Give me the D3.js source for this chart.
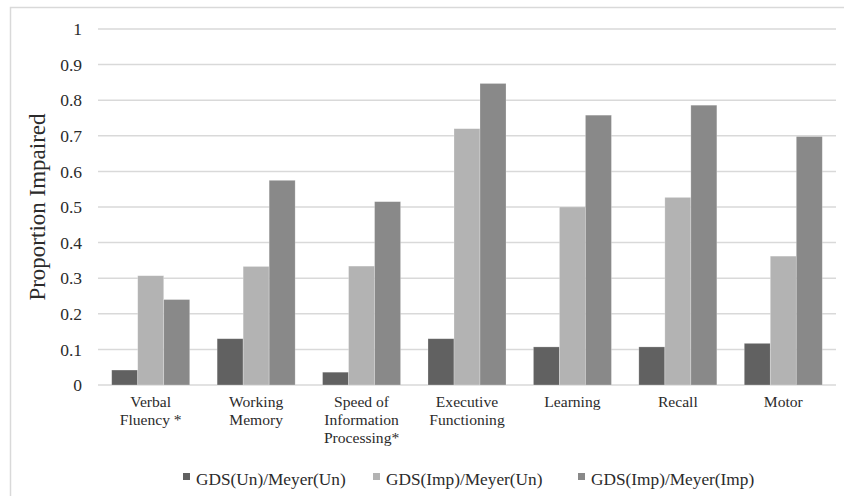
<!DOCTYPE html>
<html>
<head>
<meta charset="utf-8">
<script src="https://cdn.jsdelivr.net/npm/d3@7"></script>
<style>
  body { margin: 0; background: #fff; }
  svg text { font-family: "Liberation Serif", "Times New Roman", serif; fill: #2b2b2b; }
</style>
</head>
<body>
<div id="chart"></div>
<script>
// data
const categories = [
  ["Verbal", "Fluency *"],
  ["Working", "Memory"],
  ["Speed of", "Information", "Processing*"],
  ["Executive", "Functioning"],
  ["Learning"],
  ["Recall"],
  ["Motor"]
];
const seriesNames = ["GDS(Un)/Meyer(Un)", "GDS(Imp)/Meyer(Un)", "GDS(Imp)/Meyer(Imp)"];
const unUn   = [0.042, 0.13, 0.036, 0.13, 0.107, 0.107, 0.117];
const impUn  = [0.307, 0.333, 0.334, 0.72, 0.50, 0.527, 0.362];
const impImp = [0.24, 0.575, 0.515, 0.847, 0.758, 0.786, 0.698];
const yTicks = [0, 0.1, 0.2, 0.3, 0.4, 0.5, 0.6, 0.7, 0.8, 0.9, 1];

const colors = ["#616161", "#b3b3b3", "#898989"];
const width = 844, height = 496;
const margin = {top: 29, right: 8, bottom: 112, left: 98};

const svg = d3.select("#chart").append("svg")
    .attr("width", width)
    .attr("height", height);

// outer chart frame
svg.append("rect")
    .attr("x", 10.5).attr("y", 7.5)
    .attr("width", 840).attr("height", 500)
    .attr("fill", "none")
    .attr("stroke", "#d9d9d9")
    .attr("stroke-width", 1.5);

const rows = categories.map((c, i) => ({
  key: i, label: c, values: [unUn[i], impUn[i], impImp[i]]
}));

const x = d3.scaleBand()
    .domain(rows.map(d => d.key))
    .range([margin.left, width - margin.right])
    .paddingInner(0.26)
    .paddingOuter(0.13);

const xs = d3.scaleBand()
    .domain([0, 1, 2])
    .range([0, x.bandwidth()]);

const y = d3.scaleLinear()
    .domain([0, 1])
    .range([height - margin.bottom + 1, margin.top]);

// gridlines
svg.append("g")
    .selectAll("line")
    .data(yTicks)
    .join("line")
    .attr("x1", margin.left)
    .attr("x2", width - margin.right)
    .attr("y1", d => y(d))
    .attr("y2", d => y(d))
    .attr("stroke", "#d9d9d9")
    .attr("stroke-width", 1.5);

// y axis labels
const yAxis = g => g
    .attr("transform", `translate(${margin.left - 13},0)`)
    .call(d3.axisLeft(y).tickValues(yTicks).tickSize(0).tickFormat(d => d3.format("")(d)))
    .call(g => g.select(".domain").remove())
    .call(g => g.selectAll("text")
        .style("font-family", "Liberation Serif, serif")
        .style("font-size", "17.5px")
        .attr("fill", "#2b2b2b"));
svg.append("g").call(yAxis);

svg.append("text")
    .attr("transform", `translate(45,${(y(0) + y(1)) / 2}) rotate(-90)`)
    .attr("text-anchor", "middle")
    .style("font-size", "23px")
    .text("Proportion Impaired");

// bars
svg.append("g")
    .selectAll("g")
    .data(rows)
    .join("g")
    .attr("transform", d => `translate(${x(d.key)},0)`)
    .selectAll("rect")
    .data(d => d.values.map((v, j) => ({v, j})))
    .join("rect")
    .attr("x", d => xs(d.j))
    .attr("width", xs.bandwidth())
    .attr("y", d => y(d.v))
    .attr("height", d => y(0) - y(d.v))
    .attr("fill", d => colors[d.j])
    .attr("stroke", "#ffffff")
    .attr("stroke-opacity", 0.35)
    .attr("stroke-width", 0.7);

// x labels, one text element per category
const xl = svg.append("g")
    .selectAll("text")
    .data(rows)
    .join("text")
    .attr("text-anchor", "middle")
    .style("font-size", "15.6px")
    .attr("x", d => x(d.key) + x.bandwidth() / 2)
    .attr("y", 407);
xl.selectAll("tspan")
    .data(d => d.label.map((t, i) => ({t, i, cx: x(d.key) + x.bandwidth() / 2})))
    .join("tspan")
    .attr("x", d => d.cx)
    .attr("dy", d => d.i === 0 ? 0 : 18)
    .text(d => d.t);

// legend
const legendX = [183, 373, 578];
const leg = svg.append("g")
    .selectAll("g")
    .data(seriesNames)
    .join("g")
    .attr("transform", (d, i) => `translate(${legendX[i]},480)`);
leg.append("rect")
    .attr("x", 0).attr("y", -7)
    .attr("width", 7).attr("height", 7)
    .attr("fill", (d, i) => colors[i]);
leg.append("text")
    .attr("x", 13)
    .attr("y", 5)
    .style("font-size", "17.3px")
    .text(d => d);
</script>
</body>
</html>
